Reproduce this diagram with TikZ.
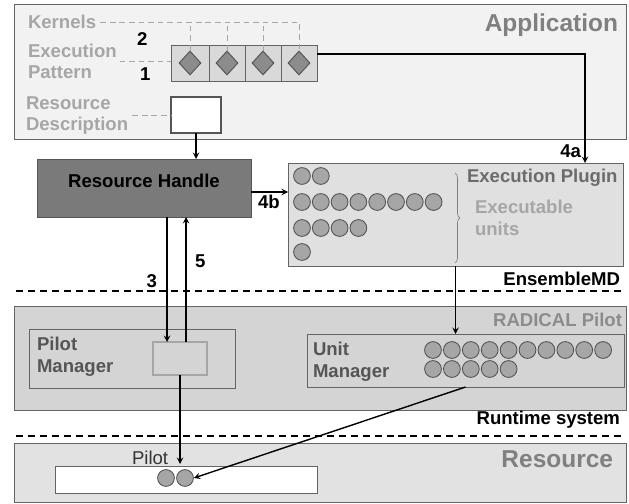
\documentclass[tikz,border=0pt]{standalone}
\usepackage{fontspec}
\setmainfont{Liberation Sans}
\usetikzlibrary{positioning,fit,calc,shapes.geometric,decorations.pathreplacing,arrows}
\definecolor{appfill}{RGB}{242,242,242}
\definecolor{rtfill}{RGB}{212,212,212}
\definecolor{resfill}{RGB}{226,226,226}
\definecolor{plugfill}{RGB}{224,224,224}
\definecolor{cellfill}{RGB}{217,217,217}
\definecolor{handlefill}{RGB}{122,122,122}
\definecolor{edgegray}{RGB}{100,100,100}
\definecolor{hintgray}{RGB}{166,166,166}
\definecolor{titlegray}{RGB}{128,128,128}
\definecolor{epgray}{RGB}{107,107,107}
\definecolor{rpgray}{RGB}{140,140,140}
\definecolor{darkgray2}{RGB}{85,85,85}
\definecolor{kernfill}{RGB}{140,140,140}
\definecolor{dotfill}{RGB}{166,166,166}
\definecolor{dotedge}{RGB}{80,80,80}
\tikzset{
  panel/.style={draw=edgegray,line width=0.7pt},
  box/.style={rectangle,draw=edgegray,line width=0.7pt,inner sep=0pt,outer sep=0pt},
  lbl/.style={inner sep=0pt,outer sep=0pt},
  udot/.style={circle,draw=dotedge,fill=dotfill,line width=0.6pt,minimum size=0.42cm,inner sep=0pt},
  kernel/.style={diamond,draw=darkgray2,fill=kernfill,line width=0.7pt,minimum width=0.55cm,minimum height=0.6cm,inner sep=0pt},
  flow/.style={->,line width=1pt},
  hint/.style={draw=hintgray,dash pattern=on 4pt off 2.8pt,line width=0.7pt},
  divider/.style={dash pattern=on 5pt off 3.5pt,line width=0.9pt}
}
\newcommand{\bigfont}{\fontsize{17.4}{20}\selectfont\bfseries}
\begin{document}
\begin{tikzpicture}[>=stealth,x=0.025cm,y=-0.025cm,font=\fontsize{13.2}{15.6}\selectfont\bfseries]
\useasboundingbox (0,0) rectangle (629,504);
% the three layers
\draw[panel,fill=appfill] (14,4) rectangle (626,139);
\draw[panel,fill=rtfill] (14,306) rectangle (626,410);
\draw[panel,fill=resfill] (14,443) rectangle (626,502);
\draw[divider] (16,291) -- (624,291);
\draw[divider] (16,436) -- (624,436);
% application
\node[lbl,anchor=base east,color=titlegray,font=\bigfont] (app) at (618,32) {Application};
\node[lbl,anchor=base west,color=hintgray] (kn) at (28,29) {Kernels};
\node[lbl,anchor=base west,color=hintgray,align=left] (xp) at (28,79) {Execution\\Pattern};
\node[lbl,anchor=base west,color=hintgray,align=left] (rd) at (26,131) {Resource\\Description};
\foreach \a/\b [count=\i] in {171/209,209/245,245/281,281/317}{
  \node[box,fill=cellfill,fit={(\a,45) (\b,81)}] (c\i) {};
  \node[kernel] (k\i) at (c\i) {};
}
\node[fit=(c1)(c4),inner sep=0pt] (pat) {};
\draw[hint] ([xshift=3pt]kn.east) -| (k4.north);
\foreach \i in {1,2,3}
  \draw[hint] (k\i.north) -- (k\i.north |- kn.east);
\draw[hint] ([xshift=2pt]xp.east) -- (xp.east -| pat.west);
\node[lbl,anchor=base west] (n2) at (137,46) {2};
\node[lbl,anchor=base west] (n1) at (140,81) {1};
\node[box,draw=darkgray2,line width=1.2pt,fill=white,fit={(171,97) (221,133)}] (rdb) {};
\draw[hint] ([xshift=3pt]rd.east) -- (rd.east -| rdb.west);
% ensemblemd
\node[box,fill=handlefill,draw=darkgray2,fit={(37,159) (251,217)}] (rh) {Resource Handle};
\draw[flow] (rdb.south) -- (rdb.south |- rh.north);
\node[box,fill=plugfill,fit={(288,163) (623,266)}] (ep) {};
\foreach \n/\y [count=\r] in {2/176,8/202,4/228,1/252}{
  \foreach \i in {1,...,\n}
    \node[udot] (e\r-\i) at (283.2+\i*18.8,\y) {};
}
\draw[decorate,decoration={brace,amplitude=3.5pt},draw=titlegray,line width=0.5pt] (455,173) -- (455,263);
\node[lbl,anchor=base west,color=epgray] (ept) at (467,183) {Execution Plugin};
\node[lbl,anchor=base west,color=hintgray,align=left] (eu) at (475,235) {Executable\\units};
\coordinate (a4b) at (0,192);
\draw[flow] (rh.east |- a4b) -- (ep.west |- a4b);
\node[lbl,anchor=base west] (l4b) at (258,208) {4b};
\coordinate (a4a) at (585,54);
\draw[flow] (pat.east |- a4a) -| (ep.north -| a4a);
\node[lbl,anchor=base east] (l4a) at (581,158) {4a};
\node[lbl,anchor=base east] (emd) at (620,285) {EnsembleMD};
% runtime system
\node[lbl,anchor=base east,color=rpgray] (rp) at (622,326) {RADICAL Pilot};
\draw[panel] (29,329) rectangle (235,388);
\node[lbl,anchor=base west,color=darkgray2,align=left] (pmt) at (37,372) {Pilot\\Manager};
\node[box,draw=hintgray,line width=1.4pt,fill=rtfill,fit={(153,342) (207,375)}] (pb) {};
\coordinate (x3) at (167,0);
\coordinate (x5) at (186,0);
\draw[flow] (rh.south -| x3) -- (pb.north -| x3);
\draw[flow] (pb.north -| x5) -- (rh.south -| x5);
\node[lbl,anchor=base east] (l3) at (157,287) {3};
\node[lbl,anchor=base west] (l5) at (195,267) {5};
\node[box,fit={(307,334) (624,387)}] (um) {};
\node[lbl,anchor=base west,color=darkgray2,align=left] (umt) at (313,377) {Unit\\Manager};
\foreach \n/\y [count=\r] in {10/350,5/369}{
  \foreach \i in {1,...,\n}
    \node[udot] (u\r-\i) at (414.1+\i*18.9,\y) {};
}
\draw[flow] (ep.south) -- (ep.south |- um.north);
\node[lbl,anchor=base east] (rts) at (620,424) {Runtime system};
% resource
\node[lbl,anchor=base east,color=titlegray,font=\bigfont] (res) at (613,467) {Resource};
\draw[panel,fill=white] (55,466) rectangle (317,493);
\node[lbl,anchor=base west,font=\fontsize{13.2}{15.6}\selectfont,color=black!80] (pl) at (132,464) {Pilot};
\node[udot] (p1) at (166,478) {};
\node[udot] (p2) at (185,478) {};
\draw[flow] (pb.south) -- (pb.south |- pl.base);
\draw[flow] (um.south) -- (p2.east);
\end{tikzpicture}
\end{document}
